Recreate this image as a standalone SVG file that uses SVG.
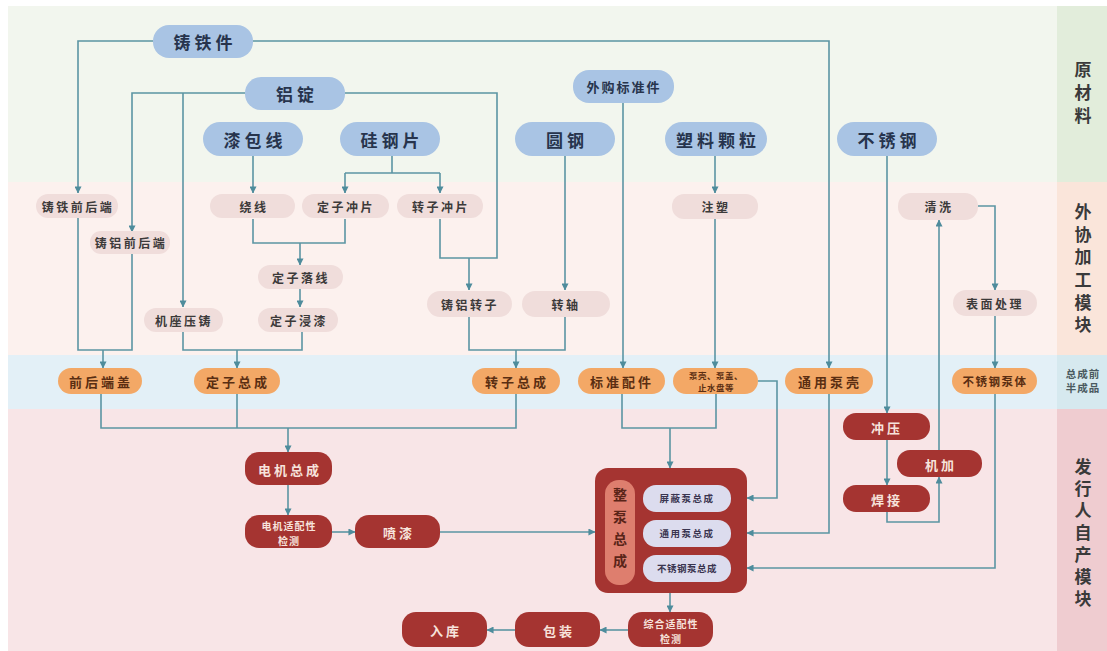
<svg xmlns="http://www.w3.org/2000/svg" width="1107" height="651" viewBox="0 0 1107 651">
  <defs>
    <marker id="arr" viewBox="0 0 8 8" refX="7.5" refY="4" markerWidth="7" markerHeight="7" markerUnits="userSpaceOnUse" orient="auto">
      <path d="M0,0 L8,4 L0,8 z" fill="#4e8c9c"/>
    </marker>
    <style>
      text { font-family: "Noto Sans CJK SC", "Noto Sans", sans-serif; text-anchor: middle; dominant-baseline: central; }
      .raw rect { fill: #a9c4e4; }
      .raw text { font-size: 17px; font-weight: 700; fill: #27344d; letter-spacing: 4px; }
      .raw text.sm { font-size: 13px; letter-spacing: 2px; }
      .proc rect { fill: #f0dddb; }
      .proc text { font-size: 12px; font-weight: 700; fill: #3c3a3a; letter-spacing: 2.5px; }
      .semi rect { fill: #f3a866; }
      .semi text { font-size: 13px; font-weight: 700; fill: #5a2e12; letter-spacing: 3px; }
      .semi text.xs { font-size: 8.5px; letter-spacing: 0.5px; }
      .own rect { fill: #a53431; }
      .own text { font-size: 13px; font-weight: 700; fill: #f7e3dc; letter-spacing: 3px; }
      .own text.two { font-size: 10px; letter-spacing: 1px; }
      .sub rect { fill: #dcdcee; }
      .sub text { font-size: 9.5px; font-weight: 700; fill: #3a3550; letter-spacing: 1.5px; }
      .lane { font-size: 17px; font-weight: 700; fill: #3a3a3a; writing-mode: vertical-rl; text-orientation: upright; dominant-baseline: auto; }
      .lane-sm { font-size: 10.5px; font-weight: 700; fill: #4a5a60; letter-spacing: 1px; }
      #connectors path { fill: none; stroke: #5b95a3; stroke-width: 1.6; }
      #connectors path.a { marker-end: url(#arr); }
    </style>
  </defs>

  <!-- swimlane backgrounds -->
  <rect x="0" y="0" width="1107" height="651" fill="#ffffff"/>
  <g id="lanes">
    <rect x="8" y="6" width="1049" height="176" fill="#f2f6ee"/>
    <rect x="1057" y="6" width="50" height="176" fill="#e2eddb"/>
    <rect x="8" y="182" width="1049" height="173" fill="#fcf1ee"/>
    <rect x="1057" y="182" width="50" height="173" fill="#fae5da"/>
    <rect x="8" y="355" width="1049" height="54" fill="#e3f0f7"/>
    <rect x="1057" y="355" width="50" height="54" fill="#d6e9ef"/>
    <rect x="8" y="409" width="1049" height="242" fill="#f8e5e7"/>
    <rect x="1057" y="409" width="50" height="242" fill="#efccd0"/>
    <text class="lane" x="1083" y="96" style="letter-spacing:6px">原材料</text>
    <text class="lane" x="1083" y="271" style="letter-spacing:5.6px">外协加工模块</text>
    <text class="lane-sm" x="1083" y="373">总成前</text>
    <text class="lane-sm" x="1083" y="387">半成品</text>
    <text class="lane" x="1083" y="535" style="letter-spacing:5px">发行人自产模块</text>
  </g>

  <!-- connectors -->
  <g id="connectors">
    <path class="a" d="M153,41 H78 V193"/>
    <path class="a" d="M253,41 H829 V368"/>
    <path class="a" d="M245,93 H132 V232"/>
    <path class="a" d="M183,93 V307"/>
    <path d="M345,93 H497 V258 H440 V219"/>
    <path class="a" d="M469,258 V290"/>
    <path class="a" d="M253,156 V193"/>
    <path d="M392,156 V173"/>
    <path d="M345,173 H440"/>
    <path class="a" d="M345,173 V193"/>
    <path class="a" d="M440,173 V193"/>
    <path d="M253,219 V243 H345 V219"/>
    <path class="a" d="M300,243 V265"/>
    <path class="a" d="M300,289 V307"/>
    <path d="M78,218 V350 H132 V253"/>
    <path class="a" d="M103,350 V368"/>
    <path d="M183,332 V350 H302 V332"/>
    <path class="a" d="M237,350 V368"/>
    <path d="M469,317 V350 H565 V317"/>
    <path class="a" d="M516,350 V368"/>
    <path class="a" d="M565,156 V290"/>
    <path class="a" d="M623,103 V368"/>
    <path class="a" d="M715,156 V193"/>
    <path class="a" d="M715,219 V368"/>
    <path class="a" d="M887,156 V413"/>
    <path d="M101,394 V428 H516 V394"/>
    <path d="M237,394 V428"/>
    <path class="a" d="M288,428 V452"/>
    <path class="a" d="M288,485 V515"/>
    <path class="a" d="M332,532 H355"/>
    <path class="a" d="M440,532 H595"/>
    <path d="M622,394 V428 H716 V394"/>
    <path class="a" d="M670,428 V468"/>
    <path class="a" d="M758,381 H777 V498 H747"/>
    <path class="a" d="M829,394 V533 H747"/>
    <path class="a" d="M995,394 V568 H747"/>
    <path class="a" d="M887,440 V485"/>
    <path class="a" d="M887,512 V522 H939 V477"/>
    <path class="a" d="M939,450 V220"/>
    <path class="a" d="M978,206 H995 V290"/>
    <path class="a" d="M995,316 V368"/>
    <path class="a" d="M670,593 V612"/>
    <path class="a" d="M628,630 H600"/>
    <path class="a" d="M515,630 H487"/>
  </g>

  <!-- raw materials -->
  <g id="n-zhutiejian" class="raw"><rect x="153" y="25" width="100" height="33" rx="16"/><text x="205" y="41">铸铁件</text></g>
  <g id="n-lvding" class="raw"><rect x="245" y="77" width="100" height="33" rx="16"/><text x="297" y="93">铝锭</text></g>
  <g id="n-qibaoxian" class="raw"><rect x="203" y="122" width="100" height="34" rx="17"/><text x="255" y="139">漆包线</text></g>
  <g id="n-guigangpian" class="raw"><rect x="340" y="122" width="100" height="34" rx="17"/><text x="392" y="139">硅钢片</text></g>
  <g id="n-waigou" class="raw"><rect x="573" y="70" width="101" height="33" rx="16"/><text class="sm" x="624" y="86">外购标准件</text></g>
  <g id="n-yuangang" class="raw"><rect x="515" y="122" width="100" height="34" rx="17"/><text x="567" y="139">圆钢</text></g>
  <g id="n-suliao" class="raw"><rect x="665" y="122" width="102" height="34" rx="17"/><text x="718" y="139">塑料颗粒</text></g>
  <g id="n-buxiugang" class="raw"><rect x="837" y="122" width="100" height="34" rx="17"/><text x="889" y="139">不锈钢</text></g>

  <!-- outsourced processing -->
  <g id="n-zhutieduan" class="proc"><rect x="36" y="194" width="82" height="24" rx="12"/><text x="78" y="206">铸铁前后端</text></g>
  <g id="n-zhulvduan" class="proc"><rect x="90" y="231" width="80" height="23" rx="11"/><text x="131" y="242">铸铝前后端</text></g>
  <g id="n-raoxian" class="proc"><rect x="210" y="194" width="85" height="24" rx="12"/><text x="254" y="206">绕线</text></g>
  <g id="n-dingzichongpian" class="proc"><rect x="302" y="194" width="87" height="24" rx="12"/><text x="346" y="206">定子冲片</text></g>
  <g id="n-zhuanzichongpian" class="proc"><rect x="397" y="194" width="86" height="24" rx="12"/><text x="441" y="206">转子冲片</text></g>
  <g id="n-dingziluoxian" class="proc"><rect x="258" y="265" width="85" height="24" rx="12"/><text x="301" y="277">定子落线</text></g>
  <g id="n-jizuoyazhu" class="proc"><rect x="144" y="308" width="79" height="24" rx="12"/><text x="184" y="320">机座压铸</text></g>
  <g id="n-dingzijinqi" class="proc"><rect x="258" y="308" width="80" height="24" rx="12"/><text x="299" y="320">定子浸漆</text></g>
  <g id="n-zhulvzhuanzi" class="proc"><rect x="427" y="291" width="85" height="26" rx="13"/><text x="470" y="304">铸铝转子</text></g>
  <g id="n-zhuanzhou" class="proc"><rect x="522" y="291" width="88" height="26" rx="13"/><text x="566" y="304">转轴</text></g>
  <g id="n-zhusu" class="proc"><rect x="672" y="194" width="86" height="25" rx="12"/><text x="716" y="206">注塑</text></g>
  <g id="n-qingxi" class="proc"><rect x="898" y="193" width="80" height="27" rx="13"/><text x="939" y="206">清洗</text></g>
  <g id="n-biaomian" class="proc"><rect x="953" y="290" width="84" height="26" rx="13"/><text x="995" y="303">表面处理</text></g>

  <!-- semi-finished assemblies -->
  <g id="n-qianhouduangai" class="semi"><rect x="58" y="368" width="84" height="26" rx="13"/><text x="101" y="381">前后端盖</text></g>
  <g id="n-dingzizongcheng" class="semi"><rect x="194" y="368" width="86" height="26" rx="13"/><text x="238" y="381">定子总成</text></g>
  <g id="n-zhuanzizongcheng" class="semi"><rect x="472" y="368" width="88" height="26" rx="13"/><text x="517" y="381">转子总成</text></g>
  <g id="n-biaozhunpeijian" class="semi"><rect x="578" y="368" width="87" height="26" rx="13"/><text x="622" y="381">标准配件</text></g>
  <g id="n-bengke" class="semi"><rect x="673" y="368" width="85" height="26" rx="13"/><text class="xs" x="716" y="375">泵壳、泵盖、</text><text class="xs" x="716" y="387">止水盘等</text></g>
  <g id="n-tongyongbengke" class="semi"><rect x="785" y="368" width="88" height="26" rx="13"/><text x="830" y="381">通用泵壳</text></g>
  <g id="n-buxiugangbengti" class="semi"><rect x="952" y="368" width="85" height="26" rx="13"/><text x="995" y="381" style="font-size:11.5px;letter-spacing:1.5px">不锈钢泵体</text></g>

  <!-- in-house production -->
  <g id="n-dianjizongcheng" class="own"><rect x="245" y="452" width="87" height="33" rx="14"/><text x="290" y="469">电机总成</text></g>
  <g id="n-dianjijiance" class="own"><rect x="245" y="515" width="87" height="33" rx="14"/><text class="two" x="289" y="525">电机适配性</text><text class="two" x="289" y="540">检测</text></g>
  <g id="n-penqi" class="own"><rect x="355" y="515" width="85" height="33" rx="14"/><text x="399" y="532">喷漆</text></g>
  <g id="n-zhengbeng" class="own">
    <rect x="595" y="468" width="152" height="125" rx="13"/>
    <rect x="605" y="480" width="30" height="105" rx="14" style="fill:#de7e6e"/>
    <text x="620" y="532" style="fill:#5a2418;font-size:14px;letter-spacing:8px;writing-mode:vertical-rl;text-orientation:upright;dominant-baseline:auto">整泵总成</text>
  </g>
  <g id="n-pingbi" class="sub"><rect x="643" y="485" width="88" height="27" rx="13"/><text x="687" y="498">屏蔽泵总成</text></g>
  <g id="n-tongyong" class="sub"><rect x="643" y="520" width="88" height="27" rx="13"/><text x="687" y="533">通用泵总成</text></g>
  <g id="n-buxiu" class="sub"><rect x="643" y="555" width="88" height="27" rx="13"/><text x="687" y="568" style="letter-spacing:0.5px">不锈钢泵总成</text></g>
  <g id="n-zonghejiance" class="own"><rect x="628" y="612" width="85" height="35" rx="14"/><text class="two" x="671" y="623">综合适配性</text><text class="two" x="671" y="638">检测</text></g>
  <g id="n-baozhuang" class="own"><rect x="515" y="612" width="85" height="35" rx="14"/><text x="559" y="630">包装</text></g>
  <g id="n-ruku" class="own"><rect x="402" y="612" width="85" height="35" rx="14"/><text x="446" y="630">入库</text></g>
  <g id="n-chongya" class="own"><rect x="843" y="413" width="87" height="27" rx="13"/><text x="887" y="427">冲压</text></g>
  <g id="n-jijia" class="own"><rect x="897" y="450" width="85" height="27" rx="13"/><text x="941" y="464">机加</text></g>
  <g id="n-hanjie" class="own"><rect x="843" y="485" width="87" height="27" rx="13"/><text x="887" y="499">焊接</text></g>
</svg>
